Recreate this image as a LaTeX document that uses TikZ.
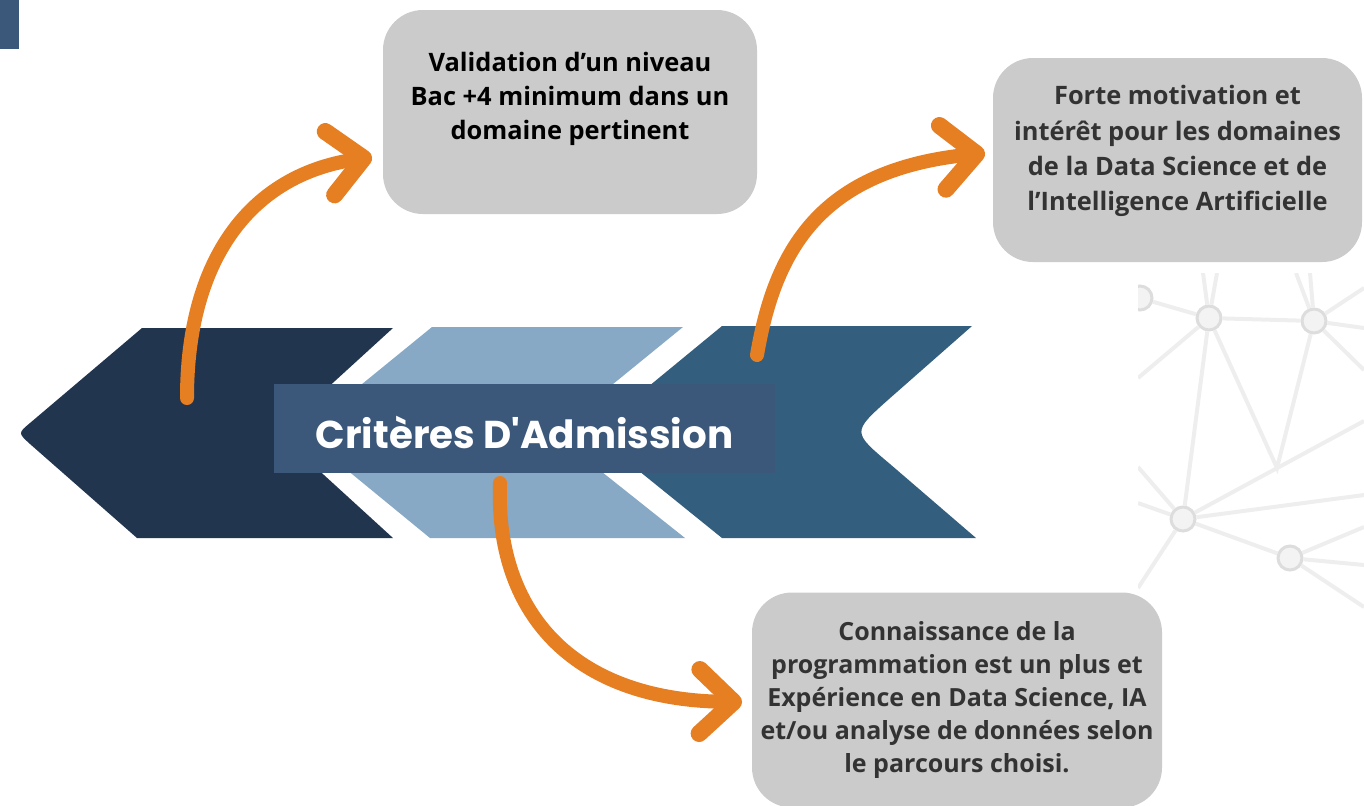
\documentclass[tikz,border=0pt]{standalone}
\usepackage{fontspec}
\setmainfont{Open Sans}
\newfontfamily\titlefont{Poppins}
\usetikzlibrary{arrows.meta}

\definecolor{navy}{HTML}{22354F}
\definecolor{steel}{HTML}{87A9C5}
\definecolor{petrol}{HTML}{335E7E}
\definecolor{slate}{HTML}{3B5779}
\definecolor{boxgray}{HTML}{CBCBCB}
\definecolor{arroworange}{HTML}{E67E22}
\definecolor{netline}{HTML}{EEEEEE}
\definecolor{netfill}{HTML}{F3F3F3}
\definecolor{darktext}{HTML}{333333}

\tikzset{
  critbox/.style={fill=boxgray,rounded corners=20pt,inner sep=0},
  crittext/.style={align=center,inner sep=0,font=\bfseries\fontsize{12.7}{17}\selectfont},
  curvearrow/.style={draw=arroworange,line width=7pt,line cap=round,
    -{Straight Barb[round,length=17pt,width=32pt,line width=8.5pt]}},
  netdot/.style={circle,fill=netfill,draw=netline!85!gray,line width=1.5pt,minimum size=12pt,inner sep=0},
  netedge/.style={draw=netline,line width=2pt}
}

\begin{document}
\begin{tikzpicture}[x=0.5pt,y=-0.5pt]
  \useasboundingbox (0,0) rectangle (1364,805);
  \fill[slate] (0,0) rectangle (19,49);

  % network in the background
  \begin{scope}
    \clip (1138,273) rectangle (1364,612);
    \node[netdot] (na) at (1209,318) {};
    \node[netdot] (nb) at (1314,321) {};
    \node[netdot] (nc) at (1183,519) {};
    \node[netdot] (nd) at (1290,558) {};
    \node[netdot] (ne) at (1140,298) {};
    \coordinate (nj) at (1277,468);
    \draw[netedge] (ne) -- (na) -- (nb) (na) -- (nj) -- (nb) (na) -- (nc) -- (nd);
    \foreach \src/\x/\y [count=\i] in {na/1203/273, na/1217/273, na/1138/378,
        nb/1296/273, nb/1310/273, nb/1364/288, nb/1364/328, nb/1364/370,
        nc/1364/421, nc/1364/495, nc/1138/467, nc/1138/503, nc/1138/588,
        nd/1364/527, nd/1364/565, nd/1364/607} {
      \coordinate (edge\i) at (\x,\y);
      \draw[netedge] (\src) -- (edge\i);
    }
  \end{scope}

  % chevrons
  \fill[navy] (142,328) -- (393,328) -- (278,433) -- (393,538) -- (137,538)
    -- (30,444) .. controls (18,433) .. (30,423) -- cycle;
  \fill[steel] (432,327) -- (683,327) -- (553,433) -- (685,538) -- (430,538) -- (302,433) -- cycle;
  \fill[petrol] (722,326) -- (972,326) -- (889,399) .. controls (852,432) .. (890,464)
    -- (976,538) -- (722,538) -- (592,433) -- cycle;

  \node[fill=slate,minimum width=250.5pt,minimum height=44.5pt,inner sep=0,text=white,
    text height=20pt,font=\titlefont\bfseries\fontsize{19.4}{23}\selectfont] (title) at (524.5,428.5)
    {Critères D\textquotesingle Admission};

  % criteria boxes
  \node[critbox,minimum width=187pt,minimum height=102pt] (valid) at (570,112) {};
  \node[crittext,text=black] (validtxt) at (570,99)
    {Validation d’un niveau\\Bac +4 minimum dans un\\domaine pertinent};
  \node[critbox,minimum width=184.5pt,minimum height=102pt] (motiv) at (1177.5,160) {};
  \node[crittext,text=darktext,font=\bfseries\fontsize{12.7}{17.6}\selectfont] (motivtxt) at (1177.5,151)
    {Forte motivation et\\intérêt pour les domaines\\de la Data Science et de\\l’Intelligence Artificielle};
  \node[critbox,minimum width=205pt,minimum height=107.5pt] (prog) at (957,700) {};
  \node[crittext,text=darktext,font=\bfseries\fontsize{12.5}{16.5}\selectfont] (progtxt) at (957,700)
    {Connaissance de la\\programmation est un plus et\\Expérience en Data Science, IA\\et/ou analyse de données selon\\le parcours choisi.};

  % arrows
  \coordinate (a1s) at (187,398);
  \coordinate (a1e) at (372,157);
  \coordinate (a2s) at (757,355);
  \coordinate (a2e) at (985,153);
  \coordinate (a3s) at (500,483);
  \coordinate (a3e) at (742,702);
  \draw[curvearrow] (a1s) .. controls (187,260) and (250,175) .. (a1e);
  \draw[curvearrow] (a2s) .. controls (775,250) and (820,170) .. (a2e);
  \draw[curvearrow] (a3s) .. controls (495,610) and (570,700) .. (a3e);
\end{tikzpicture}
\end{document}
